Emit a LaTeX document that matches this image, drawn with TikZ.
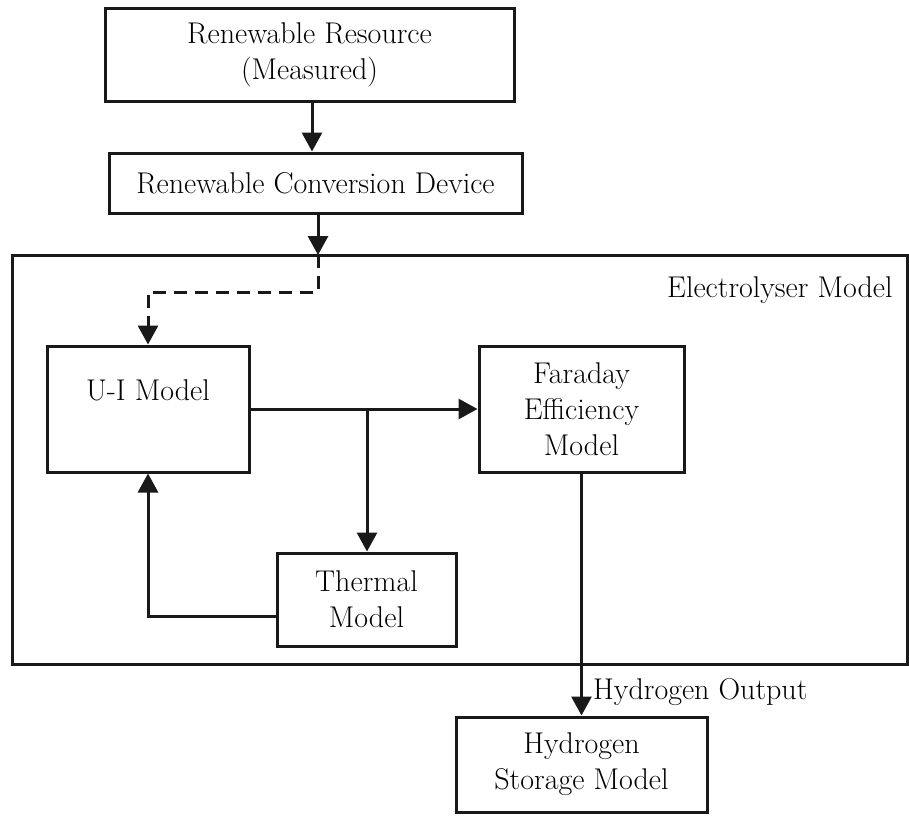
\documentclass[tikz,border=0pt]{standalone}
\usetikzlibrary{arrows.meta}
\begin{document}
\begin{tikzpicture}[x=1pt,y=-1pt,
  box/.style={draw=black!90, line width=3pt, minimum width=#1},
  lbl/.style={font=\fontsize{30}{36}\selectfont, align=center, inner sep=0pt},
  conn/.style={line width=3pt, draw=black!90, -{Triangle[width=20pt,length=19pt]}}
]
\useasboundingbox (0,0) rectangle (909,815);
% outer electrolyser box
\node[box=895pt, minimum height=409pt, inner sep=0pt] (elec) at (459.5,459.5) {};
\node[lbl, anchor=base west] (eleclbl) at (667,297) {Electrolyser Model};
% boxes
\node[box=409pt, minimum height=93pt, lbl] (res) at (309.5,54.5) {Renewable Resource\\(Measured)};
\node[box=413pt, minimum height=60pt, lbl] (conv) at (315.5,183) {Renewable Conversion Device};
\node[box=202pt, minimum height=126pt, inner sep=0pt] (ui) at (148,409) {};
\node[lbl, anchor=base] (uilbl) at (148,400) {U-I Model};
\node[box=205pt, minimum height=126pt, lbl] (far) at (581.5,409) {Faraday\\Efficiency\\Model};
\node[box=179pt, minimum height=93pt, lbl] (th) at (366.5,599.5) {Thermal\\Model};
\node[box=251pt, minimum height=95pt, lbl] (st) at (581.5,764.5) {Hydrogen\\Storage Model};
\node[lbl, anchor=base west] (h2out) at (593,699) {Hydrogen Output};
% coordinates
\coordinate (a1) at (312,101);
\coordinate (e1) at (318,255);
\coordinate (d1) at (318,292);
\coordinate (d2) at (148,292);
\coordinate (j) at (367,409);
\coordinate (f1) at (148,616);
% connectors
\draw[conn] (res.south -| a1) -- (a1 |- conv.north);
\draw[conn] (conv.south -| e1) -- (e1);
\draw[conn, dash pattern=on 13pt off 8pt] (e1) -- (d1) -- (d2) -- (ui.north);
\draw[conn] (ui.east) -- (far.west);
\draw[conn] (j) -- (j |- th.north);
\draw[conn] (th.west |- f1) -- (f1) -- (ui.south);
\draw[conn] (far.south) -- (st.north);
\end{tikzpicture}
\end{document}
